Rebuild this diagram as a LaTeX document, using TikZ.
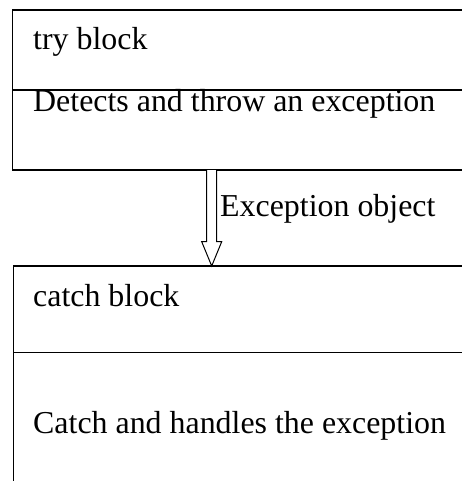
\documentclass[tikz,border=0pt]{standalone}
\usepackage{fontspec}
\setmainfont{Liberation Serif}
\begin{document}
\begin{tikzpicture}[x=1pt,y=-1pt,
  lbl/.style={anchor=base west,inner sep=0pt,font=\fontsize{31.9}{36}\selectfont},
  boxline/.style={draw=black,line width=1.2pt},
  hollow/.style={draw=black,fill=white,line width=1pt,line join=miter}]
\useasboundingbox (0,0) rectangle (462,481);
\clip (0,0) rectangle (462,481);
% try box
\coordinate (tryTL) at (12.7,10);
\coordinate (tryBR) at (490,170);
\draw[boxline] (tryTL) rectangle (tryBR);
\coordinate (tryDL) at (12.7,90);
\coordinate (tryDR) at (490,90);
\draw[boxline] (tryDL) -- (tryDR);
\node[lbl] (trylbl) at (33,50) {try block};
\node[lbl] (trytxt) at (33,111.5) {Detects and throw an exception};
% catch box
\coordinate (catTL) at (13.3,266);
\coordinate (catBR) at (490,520);
\draw[boxline] (catTL) rectangle (catBR);
\coordinate (catDL) at (13.3,352.7);
\coordinate (catDR) at (490,352.7);
\draw[boxline] (catDL) -- (catDR);
\node[lbl] (catlbl) at (33,306.5) {catch block};
\node[lbl] (cattxt) at (33,433) {Catch and handles the exception};
% hollow arrow
\coordinate (tip) at (211.7,266);
\draw[hollow] (206.7,170) -- (206.7,241.7) -- (201.7,241.7) -- (tip) -- (221.7,241.7) -- (216.7,241.7) -- (216.7,170);
\node[lbl] (exlbl) at (220,216.7) {Exception object};
\end{tikzpicture}
\end{document}
